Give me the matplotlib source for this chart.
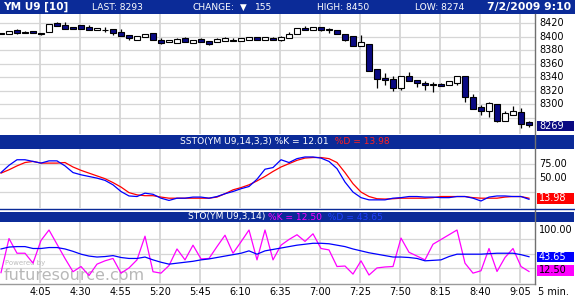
import matplotlib
matplotlib.use('Agg')
import matplotlib.pyplot as plt
from matplotlib.patches import Rectangle
import matplotlib.transforms as mtrans

# ---------------- data ----------------
opens  = [8406, 8404, 8410, 8407, 8408, 8406, 8407, 8420, 8417, 8415, 8417, 8415, 8410, 8410, 8411, 8407, 8402,
          8396, 8399, 8405, 8396, 8392, 8391, 8398, 8391, 8397, 8394, 8393, 8394, 8396, 8394, 8395, 8399, 8395,
          8398, 8396, 8398, 8404, 8413, 8410, 8414, 8412, 8410, 8404, 8401, 8387, 8389, 8352, 8339, 8338, 8325,
          8342, 8336, 8331, 8328, 8330, 8329, 8332, 8342, 8311, 8296, 8290, 8301, 8276, 8284, 8289, 8274]
highs  = [8406, 8408, 8411, 8408, 8408, 8406, 8419, 8422, 8422, 8415, 8418, 8417, 8413, 8414, 8411, 8411, 8402,
          8401, 8404, 8406, 8398, 8396, 8398, 8399, 8396, 8398, 8394, 8398, 8399, 8398, 8398, 8400, 8399, 8400,
          8399, 8401, 8407, 8413, 8416, 8414, 8414, 8413, 8410, 8404, 8401, 8403, 8389, 8352, 8346, 8342, 8342,
          8348, 8336, 8335, 8333, 8331, 8335, 8342, 8342, 8315, 8299, 8303, 8301, 8290, 8298, 8294, 8275]
lows   = [8404, 8404, 8404, 8405, 8405, 8402, 8407, 8416, 8412, 8412, 8412, 8410, 8410, 8407, 8402, 8401, 8396,
          8396, 8399, 8396, 8389, 8392, 8391, 8392, 8391, 8392, 8388, 8393, 8394, 8394, 8394, 8395, 8395, 8395,
          8396, 8394, 8398, 8404, 8410, 8410, 8408, 8405, 8404, 8394, 8387, 8387, 8350, 8325, 8328, 8320, 8322,
          8335, 8326, 8321, 8318, 8327, 8329, 8329, 8304, 8293, 8285, 8282, 8274, 8275, 8284, 8265, 8267]
closes = [8404, 8408, 8405, 8405, 8405, 8404, 8419, 8416, 8412, 8412, 8412, 8410, 8413, 8410, 8405, 8401, 8398,
          8401, 8404, 8396, 8391, 8396, 8397, 8392, 8396, 8392, 8390, 8397, 8398, 8394, 8398, 8400, 8395, 8400,
          8396, 8400, 8404, 8413, 8410, 8414, 8410, 8410, 8404, 8396, 8387, 8392, 8350, 8337, 8336, 8325, 8342,
          8335, 8331, 8329, 8330, 8327, 8335, 8342, 8311, 8293, 8290, 8302, 8275, 8287, 8291, 8271, 8269]

ssto_k = [60, 73, 83, 83, 80, 77, 81, 81, 72, 60, 56, 53, 50, 46, 38, 26, 18, 17, 23, 21, 14, 10, 14, 14, 16, 16,
          14, 17, 22, 26, 31, 35, 48, 66, 69, 83, 78, 85, 88, 88, 86, 80, 67, 43, 25, 15, 11, 11, 11, 14, 15, 17,
          17, 16, 16, 15, 15, 17, 17, 14, 9, 16, 18, 18, 17, 17, 12.01]
ssto_d = [59, 65, 72, 78, 80, 77, 77, 77, 78, 70, 64, 59, 54, 49, 42, 34, 24, 20, 18.5, 18.5, 16, 14, 14, 14, 14,
          14, 14, 16, 22, 29, 33, 38, 45, 53, 62, 70, 76, 82, 86, 87, 87, 85, 78, 60, 40, 25, 17, 13, 12.5, 13,
          14, 14, 14, 14, 15, 17, 17, 17, 17, 15, 14, 14, 14, 16, 17, 17, 13.98]
sto_k = [10, 82, 51, 51, 30, 78, 100, 70, 40, 12, 23, 4, 28, 35, 40, 9, 20, 37, 87, 12, 9, 25, 60, 37, 68, 39,
         40, 65, 89, 51, 75, 100, 37, 100, 37, 68, 80, 90, 76, 92, 61, 58, 23, 24, 7, 35, 5, 20, 22, 23, 83, 53,
         45, 37, 70, 80, 90, 100, 30, 9, 14, 61, 12.5, 42, 61, 23, 12.5]
sto_d = [60, 64, 65, 65, 61, 61, 63, 63, 60, 55, 49, 45, 43, 44, 46, 42, 40, 40, 43, 37, 32, 28, 30, 32, 34, 37,
         39, 42, 45, 48, 51, 56, 49, 56, 59, 62, 65, 68, 70, 72, 72, 71, 68, 65, 60, 56, 52, 49, 46, 43, 43, 42,
         40, 35, 36, 37, 44, 49, 49, 49, 49, 50, 51, 51, 51, 48, 43.65]

time_labels = ['4:05', '4:30', '4:55', '5:20', '5:45', '6:10', '6:35', '7:00', '7:25', '7:50', '8:15', '8:40', '9:05']
price_ticks = [8280, 8300, 8320, 8340, 8360, 8380, 8400, 8420]
price_labels = [8300, 8320, 8340, 8360, 8380, 8400, 8420]
ssto_ticks = [25, 50, 75]
ssto_labels = [50, 75]
sto_labels = [100]

# ---------------- layout ----------------
W, H = 575, 300
fig = plt.figure(figsize=(W / 100, H / 100), dpi=100)
fig.patch.set_facecolor('white')
plt.rcParams['font.family'] = ['DejaVu Sans']

def rect(x0, y0, x1, y1):
    return [x0 / W, 1 - y1 / H, (x1 - x0) / W, (y1 - y0) / H]

BAR = '#0b2b98'
NAVY = '#0a0a82'
GRID = '#d6d6d6'
n = len(closes)
idx = list(range(n))
XL = (-0.125, 66.75)
label_pos = [5 + 5 * k for k in range(len(time_labels))]
grid_pos = [p - 0.125 for p in label_pos]

def base_axes(r, ylim, hgrid):
    ax = fig.add_axes(r)
    ax.set_xlim(*XL)
    ax.set_ylim(*ylim)
    for s in ax.spines.values():
        s.set_visible(False)
    ax.set_xticks([])
    ax.set_yticks([])
    for g in grid_pos:
        ax.axvline(g, color=GRID, lw=1.3, zorder=0)
    for g in hgrid:
        ax.axhline(g, color=GRID, lw=0.9, zorder=0)
    return ax

def right_labels(ax, ticks, fmt):
    tr = mtrans.blended_transform_factory(ax.transAxes, ax.transData)
    for t in ticks:
        ax.text(1.0 + 4 / 535, t, fmt.format(t), transform=tr, ha='left', va='center',
                fontsize=7, color='black', clip_on=False)

def value_box(ax, val, text, fc, tc, hdata):
    tr = mtrans.blended_transform_factory(ax.transAxes, ax.transData)
    ax.add_patch(Rectangle((1.0 + 1.5 / 535, val - hdata / 2), 37.5 / 535, hdata, transform=tr,
                           facecolor=fc, edgecolor='none', clip_on=False, zorder=10))
    ax.text(1.0 + 4 / 535, val, text, transform=tr, ha='left', va='center', fontsize=7,
            color=tc, clip_on=False, zorder=11)

# header bar
fig.patches.append(Rectangle((0, 1 - 14 / H), 1, 14 / H, transform=fig.transFigure,
                             facecolor=BAR, edgecolor='none', zorder=0))
hy = 1 - 7.2 / H
fig.text(3 / W, hy, 'YM U9 [10]', color='white', fontsize=7.6, fontweight='bold', va='center')
fig.text(92 / W, hy, 'LAST: 8293', color='white', fontsize=6.6, va='center')
fig.text(192 / W, hy, 'CHANGE:', color='white', fontsize=6.6, va='center')
fig.text(240 / W, hy, '\u25BC', color='white', fontsize=6.3, va='center')
fig.text(255 / W, hy, '155', color='white', fontsize=6.6, va='center')
fig.text(317 / W, hy, 'HIGH: 8450', color='white', fontsize=6.6, va='center')
fig.text(415 / W, hy, 'LOW: 8274', color='white', fontsize=6.6, va='center')
fig.text(571 / W, hy, '7/2/2009 9:10', color='white', fontsize=7.8, fontweight='bold', va='center', ha='right')

# ---------------- price panel ----------------
ax1 = base_axes(rect(0, 14, 535, 134), (8256.3, 8433.7), price_ticks)
for i in idx:
    o, h, l, c = opens[i], highs[i], lows[i], closes[i]
    ax1.vlines(i, l, h, color='black', lw=0.9, zorder=2)
    lo, hi = min(o, c), max(o, c)
    fc = 'white' if c > o else NAVY
    ax1.bar(i, max(hi - lo, 0.3), bottom=lo, width=0.72, facecolor=fc, edgecolor='black',
            lw=0.8, zorder=3)
right_labels(ax1, price_labels, '{:d}')
value_box(ax1, 8268, '8269', NAVY, 'white', 15.5)

# ---------------- SSTO panel ----------------
fig.patches.append(Rectangle((0, 1 - 149 / H), 574 / W, 14 / H, transform=fig.transFigure,
                             facecolor=BAR, edgecolor='none', zorder=0))
ax2 = base_axes(rect(0, 149, 535, 208), (-3.6, 102.3), ssto_ticks)
ax2.plot(idx, ssto_k, color='#0000ff', lw=0.9, zorder=3)
ax2.plot(idx, ssto_d, color='#ff0000', lw=0.9, zorder=2)
right_labels(ax2, ssto_labels, '{:.2f}')
value_box(ax2, 13.8, '13.98', '#ff0000', 'white', 20)

# ---------------- STO panel ----------------
fig.patches.append(Rectangle((0, 1 - 222 / H), 574 / W, 10 / H, transform=fig.transFigure,
                             facecolor=BAR, edgecolor='none', zorder=0))
ax3 = base_axes(rect(0, 222, 535, 283), (-11.8, 116.9), [82, 50, 19])
ax3.plot(idx, sto_k, color='#ff00ff', lw=0.9, zorder=2)
ax3.plot(idx, sto_d, color='#0000ff', lw=0.9, zorder=3)
right_labels(ax3, sto_labels, '{:.2f}')
value_box(ax3, 43.65, '43.65', '#0000ff', 'white', 21)
value_box(ax3, 15.0, '12.50', '#ff00ff', 'black', 22)

# watermark
ax3.text(5 / 535, 0.33, 'Powered by', transform=ax3.transAxes, fontsize=5, color='#bdbdbd',
         ha='left', va='center', zorder=1)
ax3.text(4 / 535, 0.12, 'futuresource.com', transform=ax3.transAxes, fontsize=11.5, color='#b8b8b8',
         ha='left', va='center', zorder=1)

# x axis labels
tr3 = mtrans.blended_transform_factory(ax3.transData, fig.transFigure)
for p, lab in zip(label_pos, time_labels):
    ax3.text(p - 0.125, 1 - 292 / H, lab, transform=tr3, ha='center', va='center', fontsize=7,
             clip_on=False)
fig.text(553 / W, 1 - 292 / H, '5 min.', ha='center', va='center', fontsize=7)

# frame lines
fig.add_artist(plt.Line2D([0, 535 / W], [1 - 283.5 / H] * 2, color='#9a9a9a', lw=1.0, transform=fig.transFigure))
fig.add_artist(plt.Line2D([534.5 / W] * 2, [1 - 14 / H, 1 - 284 / H], color='#707070', lw=1.0, transform=fig.transFigure))
fig.add_artist(plt.Line2D([0, 574 / W], [1 - 208.8 / H] * 2, color='#0b2b98', lw=1.0, transform=fig.transFigure))

# title texts
fig.canvas.draw()
renderer = fig.canvas.get_renderer()

def seq_text(x_px, y_px, parts, size=6.6):
    x = x_px
    for s, c in parts:
        t = fig.text(x / W, 1 - y_px / H, s, color=c, fontsize=size, va='center', ha='left')
        bb = t.get_window_extent(renderer)
        x += bb.width

seq_text(180, 141.5, [('SSTO(YM U9,14,3,3) %K = 12.01', 'white'), ('  %D = 13.98', '#ff2020')])
seq_text(188, 217, [('STO(YM U9,3,14) ', 'white'), ('%K = 12.50', '#ff00ff'), ('  %D = 43.65', '#2040ff')])

fig.savefig('out.png', dpi=100, facecolor='white')
